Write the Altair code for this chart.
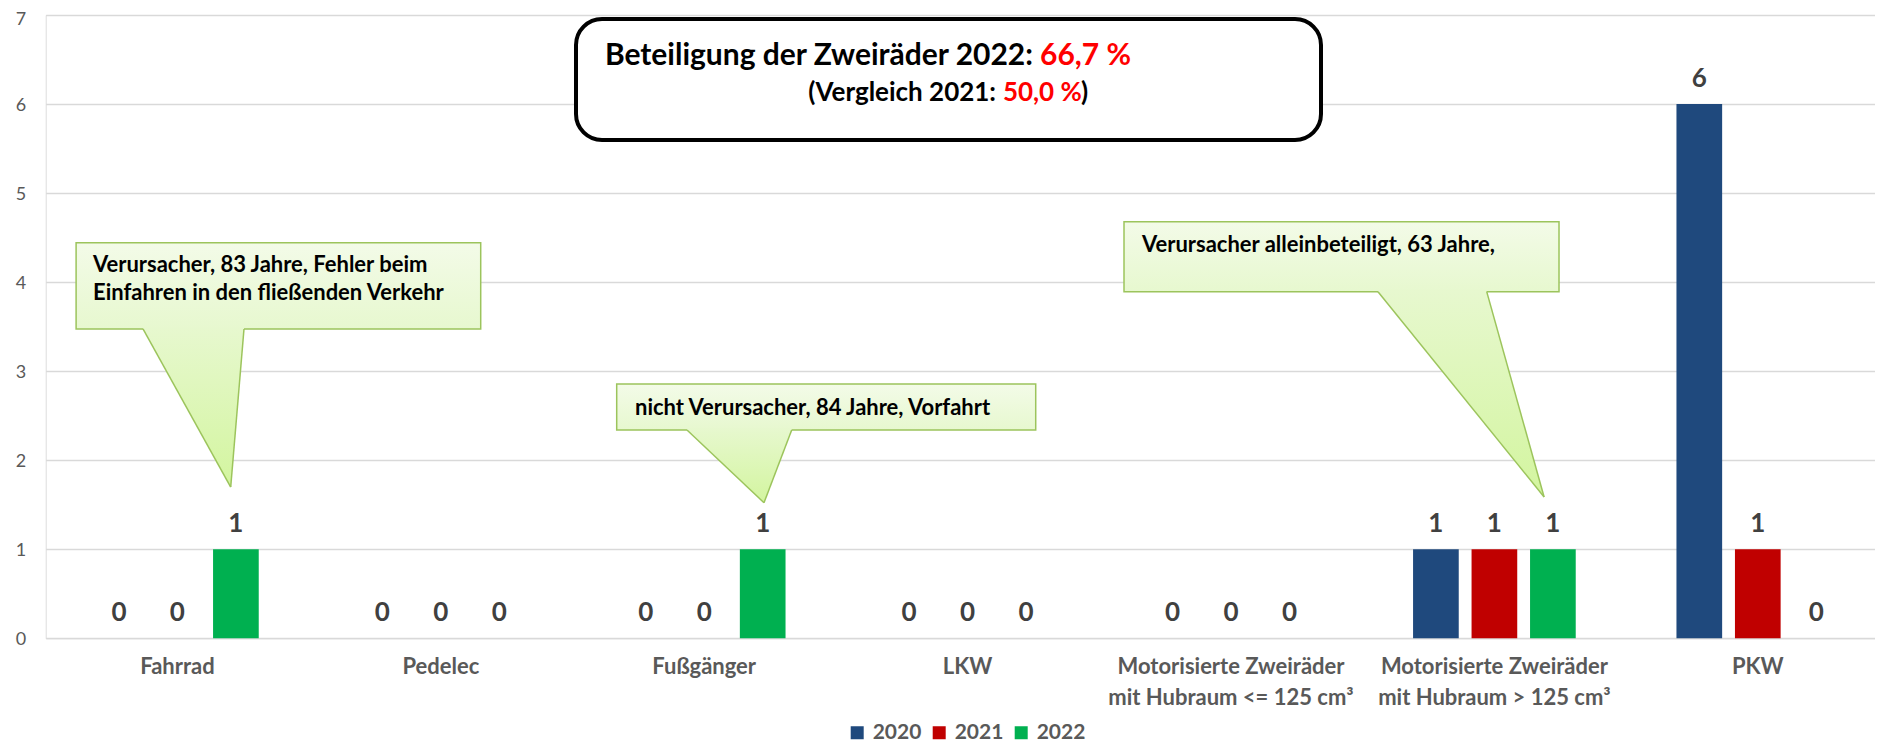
import altair as alt
import pandas as pd

# ---------------- data ----------------
categories = ["Fahrrad", "Pedelec", "Fußgänger", "LKW",
              "Motorisierte Zweiräder mit Hubraum <= 125 cm³",
              "Motorisierte Zweiräder mit Hubraum > 125 cm³", "PKW"]
years = ["2020", "2021", "2022"]
values_2020 = [0, 0, 0, 0, 0, 1, 6]
values_2021 = [0, 0, 0, 0, 0, 1, 1]
values_2022 = [1, 0, 1, 0, 0, 1, 0]
colors = ["#1f497d", "#c00000", "#00b050"]

title_text1 = "Beteiligung der Zweiräder 2022:"
title_value1 = "66,7 %"
title_text2 = "(Vergleich 2021:"
title_value2 = "50,0 %"
title_close = ")"
callout_lines = [
    ["Verursacher, 83 Jahre, Fehler beim", "Einfahren in den fließenden Verkehr"],
    ["nicht Verursacher, 84 Jahre, Vorfahrt"],
    ["Verursacher alleinbeteiligt, 63 Jahre,"],
]

# ---------------- layout (annotation geometry in data units: x = category band units, y = value units) ----
PLOT_W = 1829.3          # visible plot width (page is 1883 wide with 8px margins)
BAND_RANGE = 1843.8      # 7 category bands; the last band runs past the right edge, as in the reference
PLOT_H = 623.3
FONT = "Lato"

title_box = dict(x=2.0133, x2=4.8417, y=6.955, y2=5.596)
title_pos = dict(x1=3.748, x1r=3.775, y1=6.543, x2=3.608, x2r=3.634, xc=3.931, y2=6.124)

callout_geo = [
    dict(box=(0.1154, 1.6515, 4.443, 3.474), base=(3.474, 0.3694, 0.7528), tip=(0.7024, 1.699),
         tx=0.1796, ty=[4.193, 3.880]),
    dict(box=(2.1678, 3.7586, 2.856, 2.339), base=(2.339, 2.4347, 2.8322), tip=(2.7270, 1.523),
         tx=2.2373, ty=[2.586]),
    dict(box=(4.0938, 5.7453, 4.679, 3.893), base=(3.893, 5.0581, 5.4708), tip=(5.6887, 1.587),
         tx=4.1621, ty=[4.413]),
]

# ---------------- tables ----------------
rows = []
for i, c in enumerate(categories):
    for yr, vals in zip(years, [values_2020, values_2021, values_2022]):
        rows.append({"cat": c, "year": yr, "value": vals[i]})
df = pd.DataFrame(rows)

label_expr = ("indexof(datum.label, ' mit ') > 0 ? "
              "[substring(datum.label, 0, indexof(datum.label, ' mit ')), "
              "substring(datum.label, indexof(datum.label, ' mit ') + 1)] : datum.label")

x_scale_band = alt.Scale(range=[0, BAND_RANGE], paddingInner=0, paddingOuter=0)
xoff = alt.XOffset("year:N", sort=years, scale=alt.Scale(paddingInner=0.219, paddingOuter=0.861))
y_scale = alt.Scale(domain=[0, 7], nice=False)
y_axis = alt.Axis(title=None, values=list(range(8)), labelFont=FONT, labelFontSize=18,
                  labelColor="#595959", labelPadding=20,
                  labelOffset={"condition": {"test": "datum.value == 7", "value": 5}, "value": 1.5},
                  domain=False, ticks=False, gridColor="#d9d9d9", gridWidth=1.5)

bars = alt.Chart(df).mark_bar().encode(
    x=alt.X("cat:N", sort=categories, scale=x_scale_band,
            axis=alt.Axis(title=None, labelExpr=label_expr, labelFont=FONT, labelFontSize=22,
                          labelFontWeight="bold", labelColor="#595959", labelPadding=18,
                          labelLineHeight=31, labelBaseline="top", labelAngle=0, labelLimit=0,
                          domain=False, ticks=False, grid=False)),
    xOffset=xoff,
    y=alt.Y("value:Q", scale=y_scale, axis=y_axis),
    color=alt.Color("year:N", scale=alt.Scale(domain=years, range=colors),
                    legend=alt.Legend(orient="none", legendX=801, legendY=707, direction="horizontal",
                                      title=None, symbolType="square", symbolSize=169,
                                      symbolStrokeWidth=0, labelFont=FONT, labelFontSize=21,
                                      labelFontWeight="bold", labelColor="#595959",
                                      columnPadding=7, labelOffset=5)),
)

labels = alt.Chart(df).mark_text(font=FONT, fontSize=26, fontWeight="bold", color="#404040",
                                 baseline="middle", dy=-25).encode(
    x=alt.X("cat:N", sort=categories, scale=x_scale_band, axis=None),
    xOffset=xoff,
    y=alt.Y("value:Q", scale=y_scale, axis=y_axis),
    text="value:Q",
)


def xq(f):
    return alt.X(f, type="quantitative",
                 scale=alt.Scale(domain=[0, 7], range=[0, BAND_RANGE], nice=False), axis=None)


def yq(f):
    return alt.Y(f, type="quantitative", scale=y_scale, axis=y_axis)


layers = [bars, labels]

# title box
tb = pd.DataFrame([title_box])
layers.append(alt.Chart(tb).mark_rect(cornerRadius=26, fill="white", stroke="black", strokeWidth=4).encode(
    x=xq("x"), x2="x2", y=yq("y"), y2="y2"))

tt = pd.DataFrame([
    {"x": title_pos["x1"], "y": title_pos["y1"], "t": title_text1, "c": "black", "a": "right", "s": 30},
    {"x": title_pos["x1r"], "y": title_pos["y1"], "t": title_value1, "c": "#ff0000", "a": "left", "s": 30},
    {"x": title_pos["x2"], "y": title_pos["y2"], "t": title_text2, "c": "black", "a": "right", "s": 26},
    {"x": title_pos["x2r"], "y": title_pos["y2"], "t": title_value2, "c": "#ff0000", "a": "left", "s": 26},
    {"x": title_pos["xc"], "y": title_pos["y2"], "t": title_close, "c": "black", "a": "left", "s": 26},
])
for a in ["left", "right"]:
    for s in [30, 26]:
        sub = tt[(tt.a == a) & (tt.s == s)]
        if len(sub) == 0:
            continue
        layers.append(alt.Chart(sub).mark_text(font=FONT, fontSize=s, fontWeight="bold", align=a,
                                               baseline="middle").encode(
            x=xq("x"), y=yq("y"), text="t:N", color=alt.Color("c:N", scale=None)))

# callouts
box_grad = alt.Gradient(gradient="linear", x1=0, y1=0, x2=0, y2=1,
                        stops=[alt.GradientStop(offset=0, color="#f3fbe8"),
                               alt.GradientStop(offset=1, color="#e7f8cf")])
ptr_grad = alt.Gradient(gradient="linear", x1=0, y1=0, x2=0, y2=1,
                        stops=[alt.GradientStop(offset=0, color="#e7f8cf"),
                               alt.GradientStop(offset=1, color="#d3f59f")])
border = "#9cc45c"

for geo, lines in zip(callout_geo, callout_lines):
    bx, bx2, by, by2 = geo["box"]
    base_y, xl, xr = geo["base"]
    tipx, tipy = geo["tip"]
    bdf = pd.DataFrame([{"x": bx, "x2": bx2, "y": by, "y2": by2}])
    layers.append(alt.Chart(bdf).mark_rect(fill=box_grad, stroke=border, strokeWidth=1.5).encode(
        x=xq("x"), x2="x2", y=yq("y"), y2="y2"))
    pdf = pd.DataFrame([
        {"y": base_y + 0.025, "x": xl, "x2": xr},
        {"y": base_y, "x": xl, "x2": xr},
        {"y": tipy, "x": tipx, "x2": tipx},
    ])
    layers.append(alt.Chart(pdf).mark_area(orient="horizontal", fill=ptr_grad, strokeWidth=0).encode(
        y=yq("y"), x=xq("x"), x2="x2"))
    rdf = pd.DataFrame([
        {"x": xl, "y": base_y, "x2": tipx, "y2": tipy},
        {"x": xr, "y": base_y, "x2": tipx, "y2": tipy},
    ])
    layers.append(alt.Chart(rdf).mark_rule(color=border, strokeWidth=1.5).encode(
        x=xq("x"), y=yq("y"), x2="x2", y2="y2"))
    tdf = pd.DataFrame([{"x": geo["tx"], "y": yy, "t": t} for yy, t in zip(geo["ty"], lines)])
    layers.append(alt.Chart(tdf).mark_text(font=FONT, fontSize=22, fontWeight="bold", color="black",
                                           align="left", baseline="middle").encode(
        x=xq("x"), y=yq("y"), text="t:N"))

chart = alt.layer(*layers).resolve_scale(x="independent").properties(
    width=PLOT_W, height=PLOT_H,
    padding={"left": 37.7, "top": 7, "right": 0, "bottom": 106},
    autosize=alt.AutoSizeParams(type="none"),
).configure_view(strokeWidth=0, stroke="transparent").configure(background="white")

chart.save("out.html", embed_options={"renderer": "svg", "actions": False})
